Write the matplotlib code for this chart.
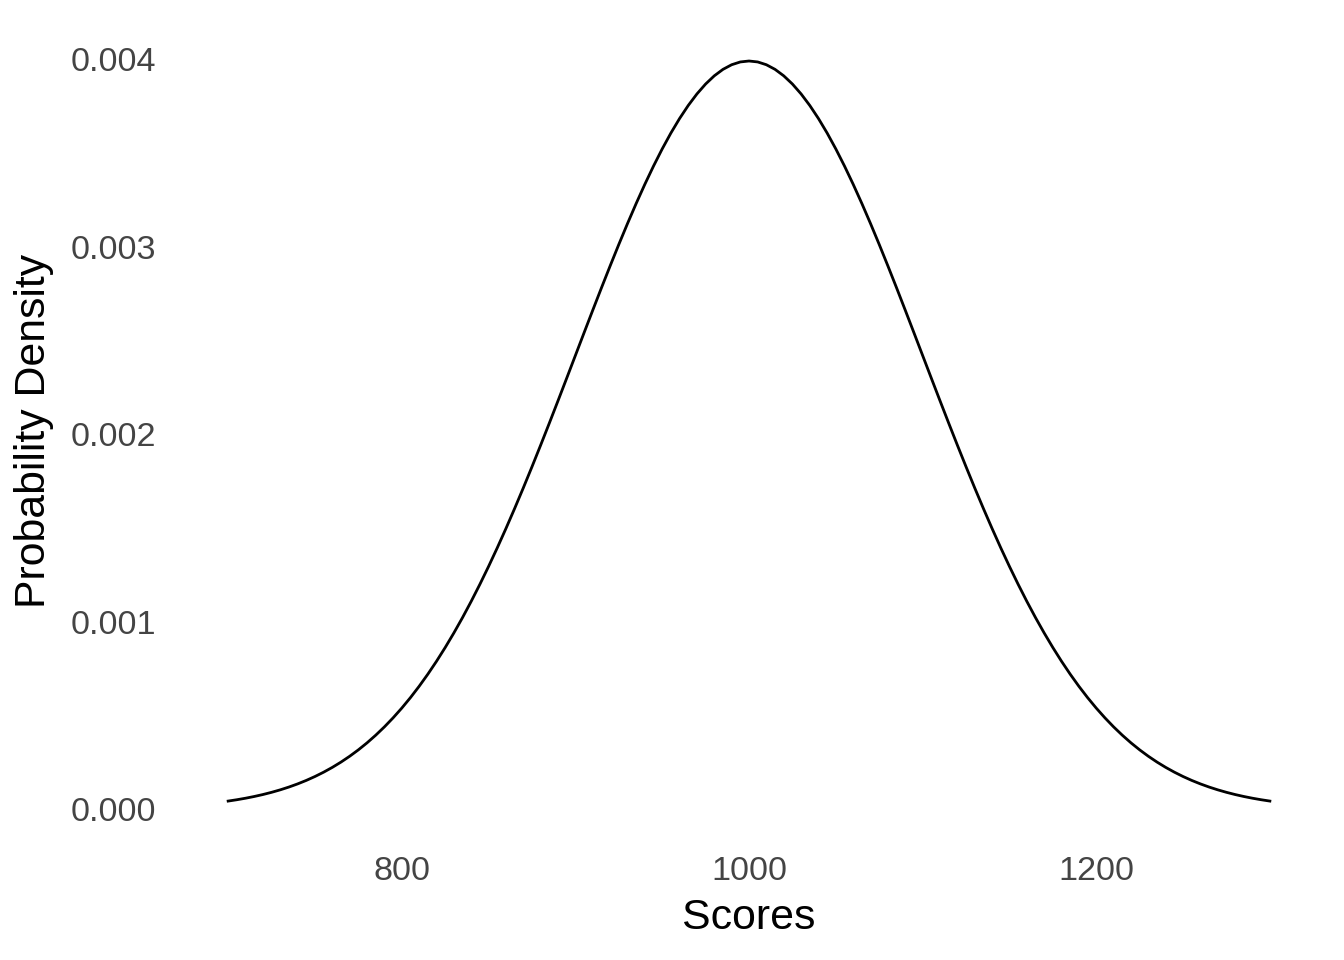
import numpy as np
import matplotlib
matplotlib.use("Agg")
import matplotlib.pyplot as plt

# Scores and density values (700 to 1000 in steps of 5,
# the curve is symmetric about 1000 so the right half mirrors the left)
half_scores = list(range(700, 1001, 5))
half_density = [0.00004432, 0.00005143, 0.00005953, 0.00006873, 0.00007915,
                0.00009094, 0.00010421, 0.00011911, 0.00013583, 0.00015447,
                0.00017528, 0.00019838, 0.00022395, 0.00025217, 0.00028327,
                0.00031740, 0.00035475, 0.00039554, 0.00043984, 0.00048797,
                0.00053991, 0.00059591, 0.00065616, 0.00072064, 0.00078950,
                0.00086277, 0.00094049, 0.0010226, 0.0011092, 0.0012001,
                0.0012952, 0.0013943, 0.0014973, 0.0016039, 0.0017137,
                0.0018265, 0.0019419, 0.0020593, 0.0021785, 0.0022988,
                0.0024197, 0.0025407, 0.0026609, 0.0027799, 0.0028969,
                0.0030114, 0.0031225, 0.0032297, 0.0033322, 0.0034294,
                0.0035207, 0.0036053, 0.0036827, 0.0037524, 0.0038139,
                0.0038667, 0.0039104, 0.0039448, 0.0039695, 0.0039844,
                0.0039894]
scores = half_scores + [2000 - s for s in half_scores[-2::-1]]
density = half_density + half_density[-2::-1]

x_ticks = [800, 1000, 1200]
y_ticks = [0.000, 0.001, 0.002, 0.003, 0.004]

plt.rcParams['font.family'] = ['Liberation Sans', 'DejaVu Sans']

fig = plt.figure(figsize=(6.72, 4.8), dpi=200)
ax = fig.add_axes([0.131, 0.127, 0.8526, 0.848])

ax.plot(scores, density, color="black", linewidth=1.0)

# ggplot-style 5% padding
xr = max(scores) - min(scores)
ax.set_xlim(min(scores) - 0.05 * xr, max(scores) + 0.05 * xr)
yr = max(density) - min(density)
ax.set_ylim(min(density) - 0.05 * yr, max(density) + 0.05 * yr)

ax.set_xticks(x_ticks)
ax.set_xticklabels([str(t) for t in x_ticks])
ax.set_yticks(y_ticks)
ax.set_yticklabels([f"{t:.3f}" for t in y_ticks])
ax.tick_params(length=0, labelsize=12.3, colors="#444444")
ax.tick_params(axis="y", pad=7)
ax.tick_params(axis="x", pad=6.5)

for s in ax.spines.values():
    s.set_visible(False)

ax.set_xlabel("Scores", fontsize=15.4, color="black", labelpad=4)
ax.set_ylabel("Probability Density", fontsize=15.4, color="black", labelpad=6)

fig.savefig("out.png", dpi=200)
